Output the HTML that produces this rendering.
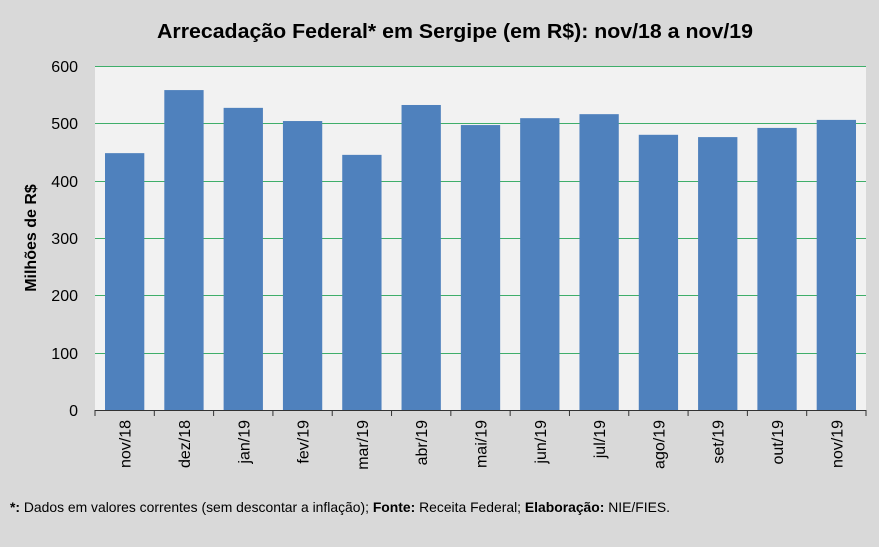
<!DOCTYPE html>
<html><head><meta charset="utf-8"><style>
body{margin:0;background:#d9d9d9;}
svg{display:block;font-family:"Liberation Sans",sans-serif;}
</style></head><body>
<svg width="879" height="547" xmlns="http://www.w3.org/2000/svg">
<rect width="879" height="547" fill="#d9d9d9"/>
<text x="455" y="38" text-anchor="middle" font-size="20" font-weight="bold" fill="#000" textLength="596" lengthAdjust="spacingAndGlyphs">Arrecadação Federal* em Sergipe (em R$): nov/18 a nov/19</text>
<rect x="95" y="66" width="771" height="344" fill="#f2f2f2"/>
<g fill="#3fae6a" shape-rendering="crispEdges">
<rect x="95" width="771" y="66" height="1"/>
<rect x="95" width="771" y="123" height="1"/>
<rect x="95" width="771" y="181" height="1"/>
<rect x="95" width="771" y="238" height="1"/>
<rect x="95" width="771" y="295" height="1"/>
<rect x="95" width="771" y="353" height="1"/>
</g>
<g font-size="16" fill="#000" text-anchor="end">
<text x="78" y="72">600</text><text x="78" y="129">500</text><text x="78" y="187">400</text>
<text x="78" y="244">300</text><text x="78" y="301">200</text><text x="78" y="359">100</text><text x="78" y="416">0</text>
</g>
<text transform="translate(36,238) rotate(-90)" text-anchor="middle" font-size="16" font-weight="bold">Milhões de R$</text>
<g fill="#4f81bd" id="bars"></g>
<line x1="95" x2="866" y1="410.5" y2="410.5" stroke="#333"/>
<g id="ticks" stroke="#333"></g>
<g id="labels" font-size="16"></g>
<text x="10" y="512" font-size="14" textLength="660" lengthAdjust="spacingAndGlyphs"><tspan font-weight="bold">*:</tspan> Dados em valores correntes (sem descontar a inflação); <tspan font-weight="bold">Fonte:</tspan> Receita  Federal; <tspan font-weight="bold">Elaboração:</tspan> NIE/FIES.</text>
<script>
var v=[448,558,527,504,445,532,497,509,516,480,476,492,506];
var l=["nov/18","dez/18","jan/19","fev/19","mar/19","abr/19","mai/19","jun/19","jul/19","ago/19","set/19","out/19","nov/19"];
var ns="http://www.w3.org/2000/svg",w=771/13;
function el(t,a,p){var e=document.createElementNS(ns,t);for(var k in a)e.setAttribute(k,a[k]);document.getElementById(p).appendChild(e);return e;}
for(var i=0;i<13;i++){var x=95+i*w,h=v[i]/600*344;
el("rect",{x:x+10,y:410-h,width:w-20,height:h},"bars");
el("line",{x1:x,x2:x,y1:410,y2:416},"ticks");
var c=x+w/2;var t=el("text",{transform:"translate("+(c+6)+",420) rotate(-90)","text-anchor":"end"},"labels");t.textContent=l[i];}
el("line",{x1:866,x2:866,y1:410,y2:416},"ticks");
</script>
</svg>
</body></html>
